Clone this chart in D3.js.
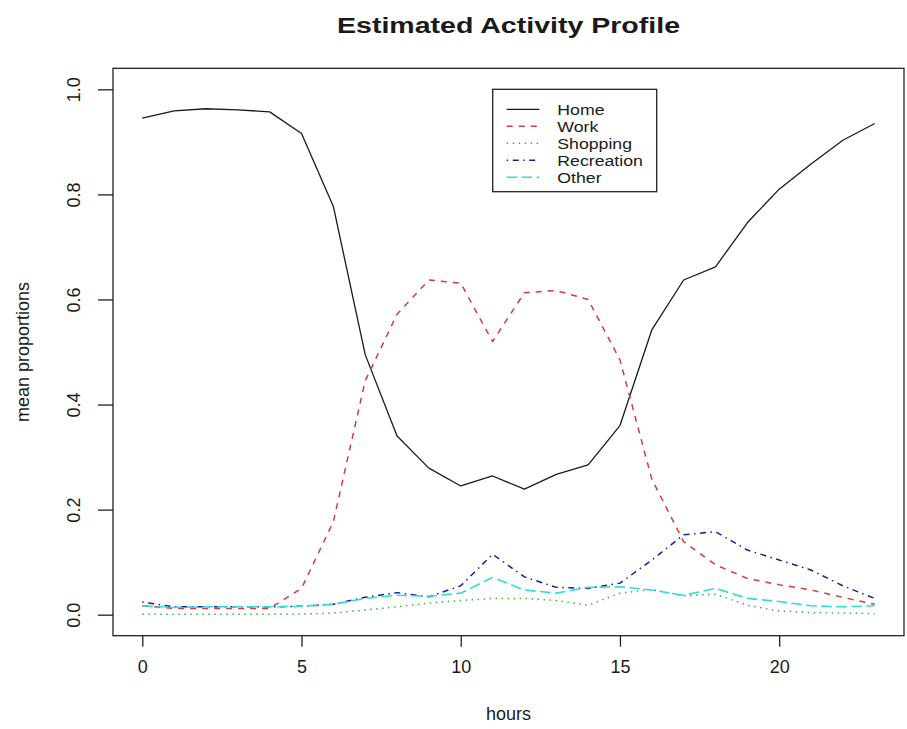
<!DOCTYPE html>
<html>
<head>
<meta charset="utf-8">
<script src="https://cdn.jsdelivr.net/npm/d3@7/dist/d3.min.js"></script>
<style>
  html, body { margin: 0; padding: 0; background: #fff; }
  svg { display: block; }
  text { font-family: "Liberation Sans", Arial, sans-serif; fill: #1a1a1a; }
</style>
</head>
<body>
<svg id="chart" width="907" height="729"></svg>
<script>
// Mean proportion of people at each activity, by hour of day
const hours = [0, 1, 2, 3, 4, 5, 6, 7, 8, 9, 10, 11, 12, 13, 14, 15, 16, 17, 18, 19, 20, 21, 22, 23];
const home = [0.945, 0.959, 0.963, 0.961, 0.957, 0.916, 0.777, 0.495, 0.340, 0.279, 0.245, 0.264,
              0.239, 0.267, 0.285, 0.360, 0.542, 0.637, 0.662, 0.746, 0.810, 0.858, 0.903, 0.935];
const work = [0.017, 0.012, 0.012, 0.012, 0.012, 0.050, 0.177, 0.445, 0.572, 0.637, 0.631, 0.520,
              0.613, 0.617, 0.600, 0.485, 0.258, 0.139, 0.095, 0.069, 0.057, 0.047, 0.033, 0.020];
const shopping = [0.001, 0.001, 0.001, 0.001, 0.001, 0.001, 0.003, 0.009, 0.015, 0.022, 0.027, 0.031,
                  0.031, 0.027, 0.018, 0.041, 0.048, 0.036, 0.039, 0.018, 0.007, 0.004, 0.003, 0.002];
const recreation = [0.024, 0.015, 0.015, 0.015, 0.015, 0.016, 0.020, 0.033, 0.042, 0.034, 0.055, 0.115,
                    0.072, 0.052, 0.050, 0.060, 0.104, 0.152, 0.158, 0.123, 0.104, 0.085, 0.055, 0.031];
const other = [0.017, 0.014, 0.015, 0.015, 0.015, 0.016, 0.020, 0.031, 0.037, 0.035, 0.041, 0.071,
               0.047, 0.041, 0.052, 0.053, 0.047, 0.037, 0.050, 0.031, 0.025, 0.017, 0.015, 0.017];

const seriesNames = ["Home", "Work", "Shopping", "Recreation", "Other"];
const seriesValues = [home, work, shopping, recreation, other];
const xTicks = [0, 5, 10, 15, 20];
const yTicks = [0.0, 0.2, 0.4, 0.6, 0.8, 1.0];

const colors = ["#1a1a1a", "#d23c3c", "#3cb43c", "#1c1ca0", "#30dcdc"];
const dashes = [null, "6,6", "1.5,4.5", "1.5,4.5,6,4.5", "10.5,4.5"];
const widths = [1.3, 1.5, 1.5, 1.5, 1.6];

const svg = d3.select("#chart");
const box = { left: 113, right: 904, top: 68.3, bottom: 635.7 };

// axis ranges padded by 4% on each side
const xPad = (23 - 0) * 0.04;
const x = d3.scaleLinear().domain([0 - xPad, 23 + xPad]).range([box.left, box.right]);
const y = d3.scaleLinear().domain([-0.04, 1.04]).range([box.bottom, box.top]);

// plot frame
svg.append("rect")
  .attr("x", box.left).attr("y", box.top)
  .attr("width", box.right - box.left).attr("height", box.bottom - box.top)
  .attr("fill", "none").attr("stroke", "#222").attr("stroke-width", 1.3);

// bottom axis
const xAxis = d3.axisBottom(x).tickValues(xTicks).tickSize(11).tickPadding(14)
  .tickFormat(d3.format("d"));
const gx = svg.append("g").attr("transform", `translate(0,${box.bottom})`).call(xAxis);
gx.select(".domain").remove();
gx.selectAll(".tick line").attr("stroke", "#222").attr("stroke-width", 1.3);
gx.selectAll(".tick text")
  .attr("font-size", 18).attr("fill", "#1a1a1a")
  .attr("font-family", "Liberation Sans, Arial, sans-serif");

// left axis, labels written vertically
const yAxis = d3.axisLeft(y).tickValues(yTicks).tickSize(15).tickFormat(d3.format(".1f"));
const gy = svg.append("g").attr("transform", `translate(${box.left},0)`).call(yAxis);
gy.select(".domain").remove();
gy.selectAll(".tick line").attr("stroke", "#222").attr("stroke-width", 1.3);
gy.selectAll(".tick text")
  .attr("font-size", 18).attr("fill", "#1a1a1a")
  .attr("font-family", "Liberation Sans, Arial, sans-serif")
  .attr("x", null).attr("dy", null)
  .attr("text-anchor", "middle")
  .attr("transform", `translate(${80 - box.left},0) rotate(-90)`);

// titles
svg.append("text")
  .attr("x", (box.left + box.right) / 2).attr("y", 33)
  .attr("text-anchor", "middle")
  .attr("font-size", 22).attr("font-weight", "bold")
  .attr("textLength", 343).attr("lengthAdjust", "spacingAndGlyphs")
  .text("Estimated Activity Profile");

svg.append("text")
  .attr("x", (box.left + box.right) / 2).attr("y", 720)
  .attr("text-anchor", "middle").attr("font-size", 18)
  .text("hours");

svg.append("text")
  .attr("transform", `translate(29,${(box.top + box.bottom) / 2}) rotate(-90)`)
  .attr("text-anchor", "middle").attr("font-size", 18)
  .text("mean proportions");

// activity lines
const line = d3.line().x((d, i) => x(hours[i])).y(d => y(d));
svg.append("g").selectAll("path")
  .data(seriesValues)
  .join("path")
  .attr("d", d => line(d))
  .attr("fill", "none")
  .attr("stroke", (d, i) => colors[i])
  .attr("stroke-width", (d, i) => widths[i])
  .attr("stroke-dasharray", (d, i) => dashes[i])
  .attr("stroke-linejoin", "round");

// legend: compact rows, text widened slightly to keep the wide look
const legend = svg.append("g");
legend.append("rect")
  .attr("x", 492.7).attr("y", 89.3).attr("width", 164).attr("height", 102.4)
  .attr("fill", "#fff").attr("stroke", "#222").attr("stroke-width", 1.3);
const rows = legend.selectAll("g.row")
  .data(seriesNames)
  .join("g").attr("class", "row")
  .attr("transform", (d, i) => `translate(0,${109.3 + i * 17})`);
rows.append("line")
  .attr("x1", 506.7).attr("x2", 539.3).attr("y1", 0).attr("y2", 0)
  .attr("stroke", (d, i) => colors[i])
  .attr("stroke-width", (d, i) => widths[i])
  .attr("stroke-dasharray", (d, i) => dashes[i]);
rows.append("text")
  .attr("transform", "translate(557.3,5.5) scale(1.18,1)")
  .attr("font-size", 15)
  .text(d => d);
</script>
</body>
</html>
